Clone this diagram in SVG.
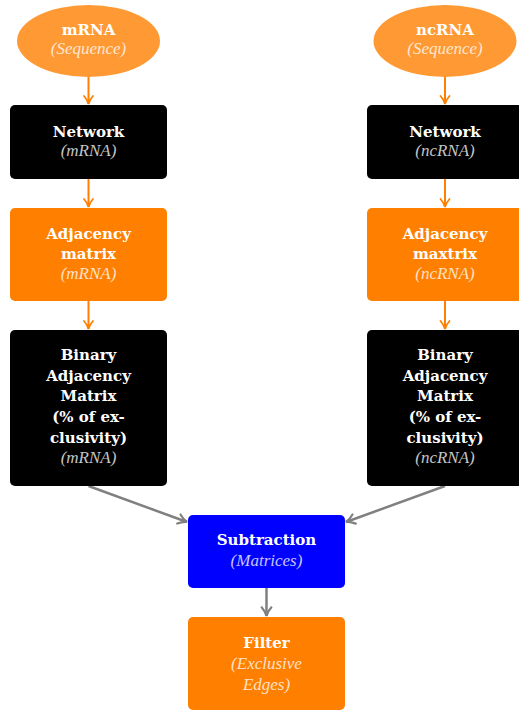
<svg xmlns="http://www.w3.org/2000/svg" width="519" height="711" viewBox="0 0 519 711">
  <defs>
    <marker id="ahO" viewBox="0 0 12 12" refX="10" refY="6" markerWidth="12" markerHeight="12" markerUnits="userSpaceOnUse" orient="auto">
      <path d="M2,1.5 Q6,5 10,6 Q6,7 2,10.5" fill="none" stroke="#FF8000" stroke-width="1.8" stroke-linecap="round"/>
    </marker>
    <marker id="ahG" viewBox="0 0 12 12" refX="10" refY="6" markerWidth="13" markerHeight="13" markerUnits="userSpaceOnUse" orient="auto">
      <path d="M2,1.5 Q6,5 10,6 Q6,7 2,10.5" fill="none" stroke="#808080" stroke-width="2" stroke-linecap="round"/>
    </marker>
  </defs>
  <style>
    .b { font-family: "DejaVu Serif", serif; font-weight: bold; font-size: 15px; fill: #ffffff; text-anchor: middle; }
    .i { font-family: "Liberation Serif", serif; font-style: italic; font-size: 17px; fill: #ffffff; fill-opacity: 0.78; text-anchor: middle; }
    .start { fill: #FF9933; }
    .dark { fill: #000000; }
    .orange { fill: #FF8000; }
    .blue { fill: #0000FF; }
    .eo { stroke: #FF8000; stroke-width: 2; fill: none; marker-end: url(#ahO); }
    .eg { stroke: #808080; stroke-width: 2.5; fill: none; marker-end: url(#ahG); }
  </style>

  <rect width="519" height="711" fill="#ffffff"/>

  <!-- connectors -->
  <g id="connectors">
    <line class="eo" x1="88.5" y1="77" x2="88.5" y2="104"/>
    <line class="eo" x1="88.5" y1="179" x2="88.5" y2="207"/>
    <line class="eo" x1="88.5" y1="301" x2="88.5" y2="329"/>
    <line class="eo" x1="445" y1="77" x2="445" y2="104"/>
    <line class="eo" x1="445" y1="179" x2="445" y2="207"/>
    <line class="eo" x1="445" y1="301" x2="445" y2="329"/>
    <line class="eg" x1="88.5" y1="486" x2="187" y2="522"/>
    <line class="eg" x1="445" y1="486" x2="346" y2="522"/>
    <line class="eg" x1="266.5" y1="588" x2="266.5" y2="616"/>
  </g>

  <!-- left column -->
  <g id="mrna-seq">
    <ellipse class="start" cx="88.5" cy="41" rx="71.5" ry="36"/>
    <text class="b" x="88.5" y="35">mRNA</text>
    <text class="i" x="88.5" y="54">(Sequence)</text>
  </g>
  <g id="mrna-network">
    <rect class="dark" x="10" y="105" width="157" height="74" rx="5"/>
    <text class="b" x="88.5" y="137">Network</text>
    <text class="i" x="88.5" y="156">(mRNA)</text>
  </g>
  <g id="mrna-adjacency">
    <rect class="orange" x="10" y="208" width="157" height="93" rx="5"/>
    <text class="b" x="88.5" y="239">Adjacency</text>
    <text class="b" x="88.5" y="259">matrix</text>
    <text class="i" x="88.5" y="279">(mRNA)</text>
  </g>
  <g id="mrna-binary">
    <rect class="dark" x="10" y="330" width="157" height="156" rx="5"/>
    <text class="b" x="88.5" y="360">Binary</text>
    <text class="b" x="88.5" y="381">Adjacency</text>
    <text class="b" x="88.5" y="401">Matrix</text>
    <text class="b" x="88.5" y="422">(% of ex-</text>
    <text class="b" x="88.5" y="443">clusivity)</text>
    <text class="i" x="88.5" y="463">(mRNA)</text>
  </g>

  <!-- right column -->
  <g id="ncrna-seq">
    <ellipse class="start" cx="445" cy="41" rx="71.5" ry="36"/>
    <text class="b" x="445" y="35">ncRNA</text>
    <text class="i" x="445" y="54">(Sequence)</text>
  </g>
  <g id="ncrna-network">
    <rect class="dark" x="367" y="105" width="157" height="74" rx="5"/>
    <text class="b" x="445" y="137">Network</text>
    <text class="i" x="445" y="156">(ncRNA)</text>
  </g>
  <g id="ncrna-adjacency">
    <rect class="orange" x="367" y="208" width="157" height="93" rx="5"/>
    <text class="b" x="445" y="239">Adjacency</text>
    <text class="b" x="445" y="259">maxtrix</text>
    <text class="i" x="445" y="279">(ncRNA)</text>
  </g>
  <g id="ncrna-binary">
    <rect class="dark" x="367" y="330" width="157" height="156" rx="5"/>
    <text class="b" x="445" y="360">Binary</text>
    <text class="b" x="445" y="381">Adjacency</text>
    <text class="b" x="445" y="401">Matrix</text>
    <text class="b" x="445" y="422">(% of ex-</text>
    <text class="b" x="445" y="443">clusivity)</text>
    <text class="i" x="445" y="463">(ncRNA)</text>
  </g>

  <!-- merge -->
  <g id="subtraction">
    <rect class="blue" x="188" y="515" width="157" height="73" rx="5"/>
    <text class="b" x="266.5" y="545">Subtraction</text>
    <text class="i" x="266.5" y="566">(Matrices)</text>
  </g>
  <g id="filter">
    <rect class="orange" x="188" y="617" width="157" height="93" rx="5"/>
    <text class="b" x="266.5" y="648">Filter</text>
    <text class="i" x="266.5" y="669">(Exclusive</text>
    <text class="i" x="266.5" y="690">Edges)</text>
  </g>
</svg>
